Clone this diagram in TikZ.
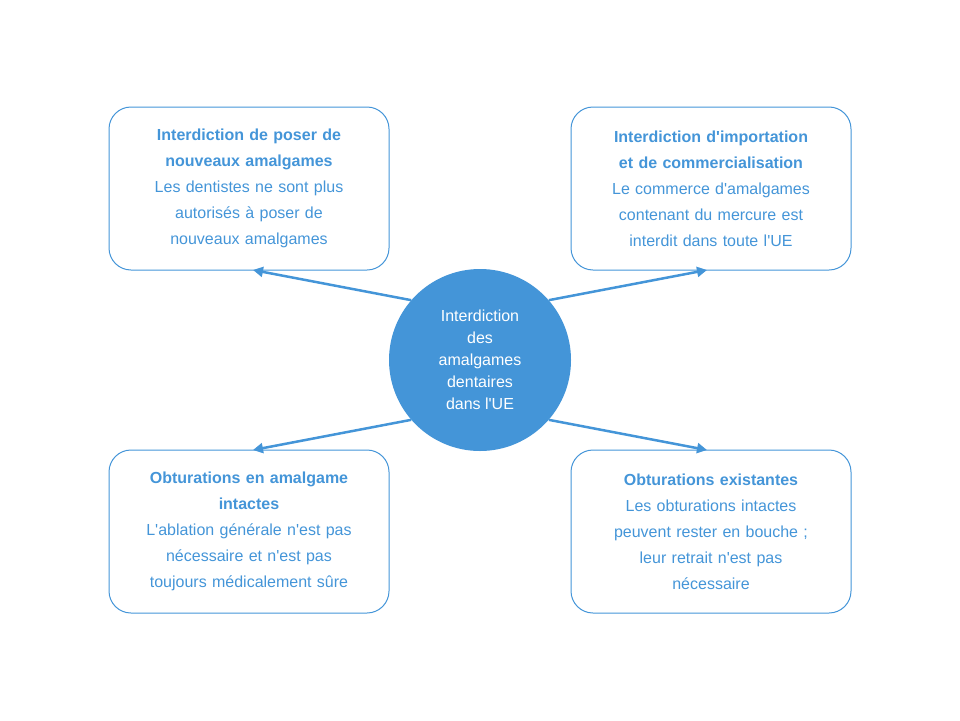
\documentclass[tikz,border=0pt]{standalone}
\usepackage{fontspec}
\setmainfont{Liberation Sans}
\usetikzlibrary{arrows.meta}
\definecolor{mb}{HTML}{4495D8}
\newcommand{\q}{\textquotesingle}
\begin{document}
\begin{tikzpicture}[x=1pt,y=-1pt,
 box/.style={draw=mb,line width=1pt,rounded corners=22pt,minimum width=280pt,minimum height=163pt,text width=270pt,align=center,text=mb,font=\fontsize{16}{26}\selectfont,inner sep=0pt},
 arr/.style={draw=mb,line width=2.5pt,-{Triangle[length=10pt,width=10pt]}}]
\useasboundingbox (0,0) rectangle (960,720);
\node[circle,fill=mb,minimum size=182pt,inner sep=0pt,text=white,align=center,font=\fontsize{16}{22}\selectfont] (c) at (480,360) {Interdiction\\des\\amalgames\\dentaires\\dans l\q UE};
\node[box] (tl) at (249,188.5) {\textbf{Interdiction de poser de}\\\textbf{nouveaux amalgames}\\Les dentistes ne sont plus\\autorisés à poser de\\nouveaux amalgames};
\node[box] (tr) at (711,188.5) {\textbf{Interdiction d\q importation}\\\textbf{et de commercialisation}\\Le commerce d\q amalgames\\contenant du mercure est\\interdit dans toute l\q UE};
\node[box] (bl) at (249,531.5) {\textbf{Obturations en amalgame}\\\textbf{intactes}\\L\q ablation générale n\q est pas\\nécessaire et n\q est pas\\toujours médicalement sûre};
\node[box] (br) at (711,531.5) {\textbf{Obturations existantes}\\Les obturations intactes\\peuvent rester en bouche ;\\leur retrait n\q est pas\\nécessaire};
\coordinate (etl) at (253,270);
\coordinate (etr) at (707,270);
\coordinate (ebl) at (253,450);
\coordinate (ebr) at (707,450);
\draw[arr] (c.139) -- (etl);
\draw[arr] (c.41) -- (etr);
\draw[arr] (c.221) -- (ebl);
\draw[arr] (c.319) -- (ebr);
\end{tikzpicture}
\end{document}
